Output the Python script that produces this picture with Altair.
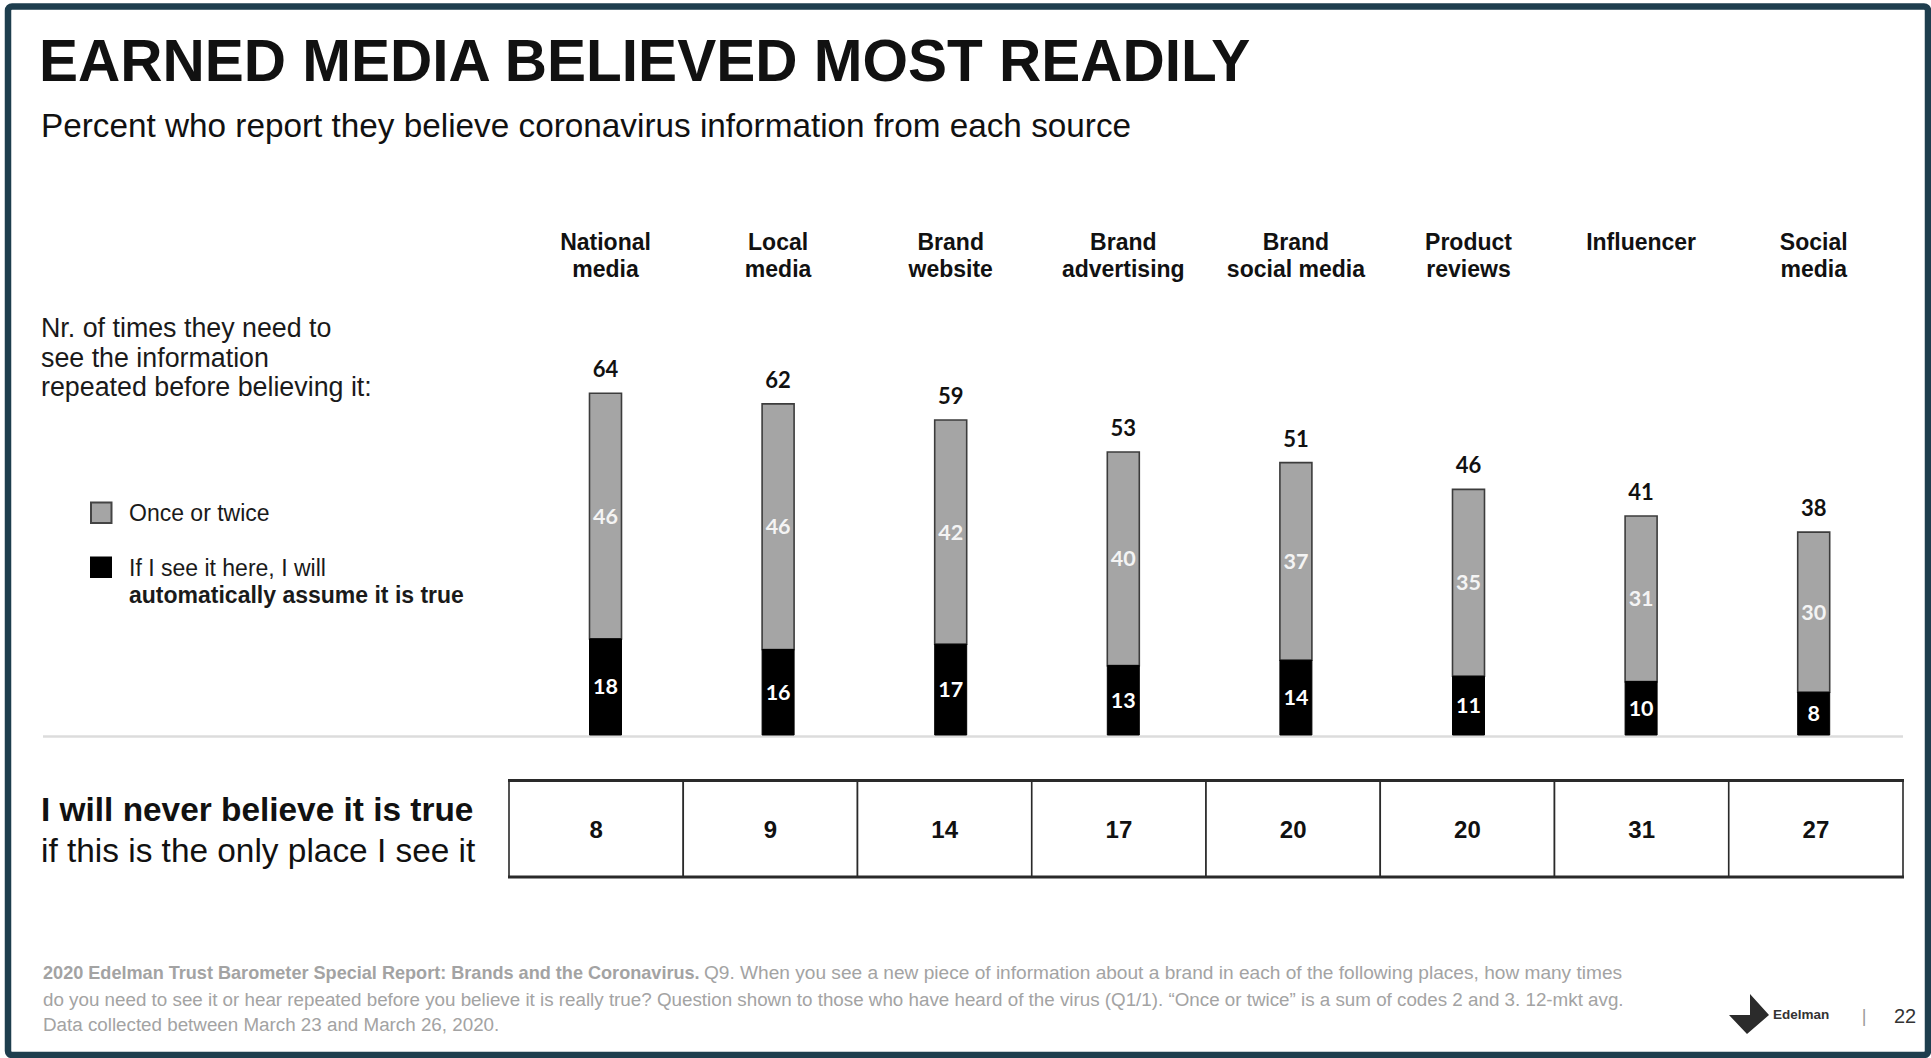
import altair as alt
import pandas as pd

# ---- data -------------------------------------------------------------
sources = ["National media", "Local media", "Brand website", "Brand advertising",
           "Brand social media", "Product reviews", "Influencer", "Social media"]
headers = ["National\nmedia", "Local\nmedia", "Brand\nwebsite", "Brand\nadvertising",
           "Brand\nsocial media", "Product\nreviews", "Influencer", "Social\nmedia"]
auto_true = [18, 16, 17, 13, 14, 11, 10, 8]      # "automatically assume it is true"
once_twice = [46, 46, 42, 40, 37, 35, 31, 30]    # "once or twice"
never_true = [8, 9, 14, 17, 20, 20, 31, 27]      # "I will never believe it is true"

df = pd.DataFrame({
    "source": sources,
    "header": headers,
    "auto": auto_true,
    "once": once_twice,
    "never": never_true,
})
df["zero"] = 0
df["total"] = df["auto"] + df["once"]
df["auto_mid"] = df["auto"] / 2
df["once_mid"] = df["auto"] + df["once"] / 2

one = pd.DataFrame({"k": [0]})

SANS = "Liberation Sans"
NUM = "Lato"
GRAY = "#a5a5a5"

# ---- scales -----------------------------------------------------------
bar_x = alt.Scale(domain=sources, range=[519.2, 1900.0], paddingInner=0, paddingOuter=0)
table_x = alt.Scale(domain=sources, range=[509.0, 1903.0], paddingInner=0, paddingOuter=0)
val_y = alt.Scale(domain=[0, 100], range=[735, 201], nice=False)


def text_at(text, x, y, size, weight="normal", color="#111111", font=SANS,
            align="left", line_height=None):
    props = dict(align=align, baseline="alphabetic", fontSize=size,
                 fontWeight=weight, font=font, color=color)
    if line_height is not None:
        props["lineHeight"] = line_height
    return alt.Chart(one).mark_text(**props).encode(
        x=alt.value(x), y=alt.value(y), text=alt.value(text))


layers = []

# slide frame
layers.append(
    alt.Chart(one).mark_rect(fillOpacity=0, stroke="#1e3e4e", strokeWidth=6.5,
                             cornerRadius=4).encode(
        x=alt.value(8), x2=alt.value(1928), y=alt.value(6.5), y2=alt.value(1055))
)

# title block
layers.append(text_at("EARNED MEDIA BELIEVED MOST READILY", 39, 81, 58.5, "bold"))
layers.append(text_at("Percent who report they believe coronavirus information from each source",
                      41, 137, 33.3))

# left-hand explanation and legend
layers.append(text_at(["Nr. of times they need to", "see the information",
                       "repeated before believing it:"], 41, 337, 26.8, line_height=29.5,
                      color="#1a1a1a"))
layers.append(
    alt.Chart(one).mark_rect(fill=GRAY, stroke="#444444", strokeWidth=2).encode(
        x=alt.value(91), x2=alt.value(111.5), y=alt.value(502.5), y2=alt.value(523))
)
layers.append(
    alt.Chart(one).mark_rect(fill="#000000").encode(
        x=alt.value(90), x2=alt.value(112), y=alt.value(556.5), y2=alt.value(578))
)
layers.append(text_at("Once or twice", 129, 521, 23, color="#1a1a1a"))
layers.append(text_at("If I see it here, I will", 129, 576, 23, color="#1a1a1a"))
layers.append(text_at("automatically assume it is true", 129, 603, 23, "bold", color="#1a1a1a"))

# category headers
layers.append(
    alt.Chart(df).mark_text(lineBreak="\n", align="center", baseline="alphabetic",
                            fontSize=23, fontWeight="bold", font=SANS, color="#111111",
                            lineHeight=27).encode(
        x=alt.X("source:N", scale=bar_x, axis=None),
        y=alt.value(250),
        text="header:N")
)

# baseline rule
layers.append(
    alt.Chart(one).mark_rule(color="#dcdcdc", strokeWidth=2.5).encode(
        x=alt.value(43), x2=alt.value(1903), y=alt.value(736.5))
)

# stacked bars
layers.append(
    alt.Chart(df).mark_bar(size=32, color=GRAY, stroke="#3c3c3c", strokeWidth=1.6).encode(
        x=alt.X("source:N", scale=bar_x, axis=None),
        y=alt.Y("total:Q", scale=val_y, axis=None),
        y2="auto:Q")
)
layers.append(
    alt.Chart(df).mark_bar(size=32, color="#000000", stroke="#000000", strokeWidth=1).encode(
        x=alt.X("source:N", scale=bar_x, axis=None),
        y=alt.Y("auto:Q", scale=val_y, axis=None),
        y2="zero:Q")
)

# bar labels
layers.append(
    alt.Chart(df).mark_text(align="center", baseline="alphabetic", dy=-16, fontSize=22,
                            fontWeight="bold", font=NUM, color="#111111").encode(
        x=alt.X("source:N", scale=bar_x, axis=None),
        y=alt.Y("total:Q", scale=val_y, axis=None),
        text="total:Q")
)
layers.append(
    alt.Chart(df).mark_text(align="center", baseline="alphabetic", dy=7.5, fontSize=21.5,
                            fontWeight="bold", font=NUM, color="#f4f4f4").encode(
        x=alt.X("source:N", scale=bar_x, axis=None),
        y=alt.Y("once_mid:Q", scale=val_y, axis=None),
        text="once:Q")
)
layers.append(
    alt.Chart(df).mark_text(align="center", baseline="alphabetic", dy=7.5, fontSize=21.5,
                            fontWeight="bold", font=NUM, color="#ffffff").encode(
        x=alt.X("source:N", scale=bar_x, axis=None),
        y=alt.Y("auto_mid:Q", scale=val_y, axis=None),
        text="auto:Q")
)

# "never believe" row
layers.append(text_at("I will never believe it is true", 41, 821, 33.4, "bold"))
layers.append(text_at("if this is the only place I see it", 41, 862, 33.4))
layers.append(
    alt.Chart(df).mark_rect(fill="#ffffff", stroke="#2a2a2a", strokeWidth=1.6).encode(
        x=alt.X("source:N", scale=table_x, axis=None),
        y=alt.value(780.5), y2=alt.value(877))
)
layers.append(
    alt.Chart(one).mark_rule(color="#2a2a2a", strokeWidth=3).encode(
        x=alt.value(508), x2=alt.value(1904), y=alt.value(780.5))
)
layers.append(
    alt.Chart(one).mark_rule(color="#2a2a2a", strokeWidth=3).encode(
        x=alt.value(508), x2=alt.value(1904), y=alt.value(877))
)
layers.append(
    alt.Chart(df).mark_text(align="center", baseline="alphabetic", fontSize=24,
                            fontWeight="bold", font=SANS, color="#111111").encode(
        x=alt.X("source:N", scale=table_x, axis=None),
        y=alt.value(837.5),
        text="never:Q")
)

# source note
NOTE = "#a3a3a3"
layers.append(text_at("2020 Edelman Trust Barometer Special Report: Brands and the Coronavirus.",
                      43, 979, 18.1, "bold", color=NOTE))
layers.append(text_at("Q9. When you see a new piece of information about a brand in each of the "
                      "following places, how many times", 704, 979, 19.1, color=NOTE))
layers.append(text_at("do you need to see it or hear repeated before you believe it is really true? "
                      "Question shown to those who have heard of the virus (Q1/1). \u201cOnce or twice\u201d "
                      "is a sum of codes 2 and 3. 12-mkt avg.", 43, 1006, 18.8, color=NOTE))
layers.append(text_at("Data collected between March 23 and March 26, 2020.", 43, 1031, 18.8,
                      color=NOTE))

# brand mark and page number
layers.append(
    alt.Chart(one).mark_point(shape="M0.05,-1 L1,0.05 L-0.1,1 L-1,0.05 L0.05,0.05 Z",
                              filled=True, fill="#2b2b2b", opacity=1, size=1600,
                              strokeWidth=0).encode(
        x=alt.value(1749), y=alt.value(1014))
)
layers.append(text_at("Edelman", 1773, 1019, 13.5, "bold", color="#333333"))
layers.append(text_at("|", 1864, 1022, 18, color="#9a9a9a", align="center"))
layers.append(text_at("22", 1905, 1023, 20, color="#333333", align="center"))

chart = (
    alt.layer(*layers)
    .resolve_scale(x="independent", y="independent")
    .properties(width=1931, height=1058, padding=0,
                autosize=alt.AutoSizeParams(type="none"), background="#ffffff")
    .configure_view(stroke=None)
)

chart.save("out.html", embed_options={"renderer": "svg", "actions": False})
